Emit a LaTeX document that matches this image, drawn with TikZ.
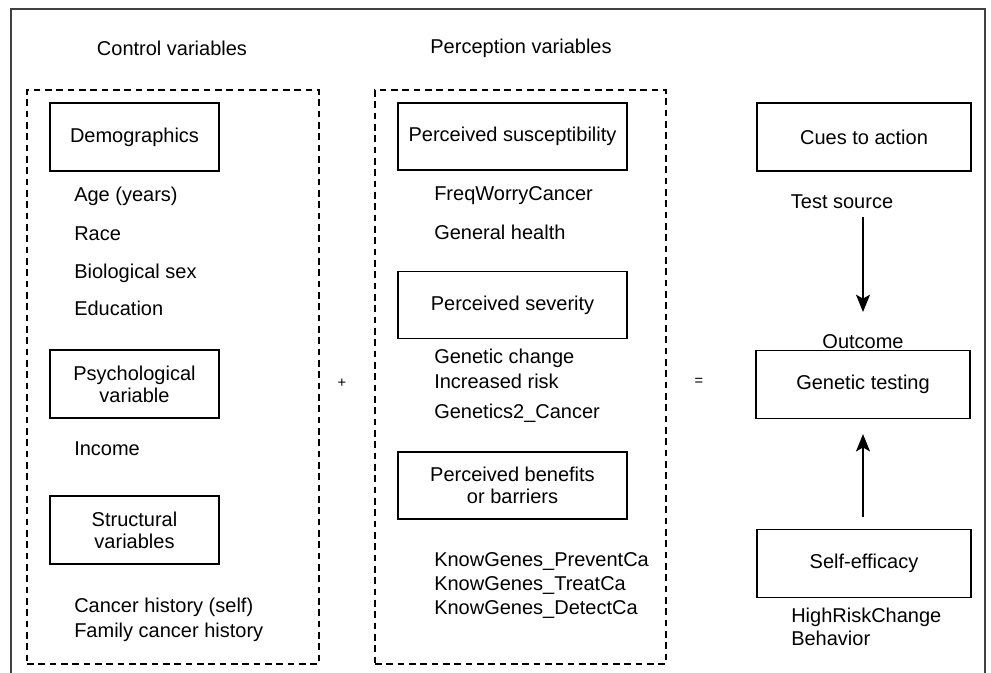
\documentclass[tikz,border=0pt]{standalone}
\usepackage{fontspec}
\setmainfont{Liberation Sans}
\usetikzlibrary{arrows.meta}
\begin{document}
\begin{tikzpicture}[
    x=0.75pt, y=-0.75pt,
    every node/.style={font=\fontsize{15}{16.5}\selectfont, inner sep=0pt},
    varbox/.style={draw, line width=0.9pt, align=center, minimum width=126.75pt, minimum height=51pt},
    percbox/.style={varbox, minimum width=171.75pt, minimum height=50.25pt},
    modelbox/.style={varbox, line width=1.4pt, minimum width=160.5pt},
    groupbox/.style={draw, line width=1.3pt, dash pattern=on 5pt off 3.5pt, minimum height=430.5pt},
    item/.style={anchor=west, text height=0.75em, text depth=0.25em, yshift=-2.8pt},
    sign/.style={font=\fontsize{11}{13}\selectfont},
    arr/.style={draw, line width=1.3pt, -{Stealth[length=13pt, width=10.5pt, inset=3pt]}}
    ]
    \useasboundingbox (0,0) rectangle (991,673);

    % outer frame, open at the bottom
    \draw[black!75, line width=0.9pt] (11,673) -- (11,9) -- (985,9) -- (985,673);

    % control variables
    \node (ctrltitle) at (172,48) {Control variables};
    \node[groupbox, minimum width=219pt] (ctrl) at (173,377) {};
    \node[varbox] (demo) at (134.5,137) {Demographics};
    \node[item] (age) at (74,194) {Age (years)};
    \node[item] (race) at (74,233) {Race};
    \node[item] (sex) at (74,271) {Biological sex};
    \node[item] (edu) at (74,308) {Education};
    \node[varbox] (psych) at (134.5,384) {Psychological\\variable};
    \node[item] (income) at (74,448) {Income};
    \node[varbox] (struct) at (134.5,530) {Structural\\variables};
    \node[item] (histself) at (74,605) {Cancer history (self)};
    \node[item] (histfam) at (74,630) {Family cancer history};

    \node[sign] (plus) at (342,383) {+};

    % perception variables
    \node (perctitle) at (521,48) {Perception variables};
    \node[groupbox, minimum width=218.25pt] (perc) at (520.5,377) {};
    \node[percbox] (suscep) at (512.5,136.5) {Perceived susceptibility};
    \node[item] (worry) at (434,193) {FreqWorryCancer};
    \node[item] (health) at (434,232) {General health};
    \node[percbox] (sever) at (512.5,305) {Perceived severity};
    \node[item] (genchange) at (434,356) {Genetic change};
    \node[item] (incrisk) at (434,381) {Increased risk};
    \node[item] (gencancer) at (434,411) {Genetics2\_Cancer};
    \node[percbox] (benef) at (512.5,485.5) {Perceived benefits\\or barriers};
    \node[item] (prevent) at (434,559) {KnowGenes\_PreventCa};
    \node[item] (treat) at (434,583) {KnowGenes\_TreatCa};
    \node[item] (detect) at (434,607) {KnowGenes\_DetectCa};

    \node[sign] (equals) at (699,382) {=};

    % model
    \node[modelbox] (cues) at (864,137) {Cues to action};
    \node (source) at (842,202) {Test source};
    \node (outcome) at (863,342) {Outcome};
    \node[modelbox] (gentest) at (863,384.5) {Genetic testing};
    \node[modelbox] (effic) at (864,563.5) {Self-efficacy};
    \node[item] (highrisk) at (791,615) {HighRiskChange};
    \node[item] (behav) at (791,638) {Behavior};

    \coordinate (downtop) at (863,217);
    \coordinate (downtip) at (863,312);
    \draw[arr] (downtop) -- (downtip);
    \draw[arr] ([yshift=9pt]effic.north -| gentest) -- ([yshift=-11pt]gentest.south);
\end{tikzpicture}
\end{document}
